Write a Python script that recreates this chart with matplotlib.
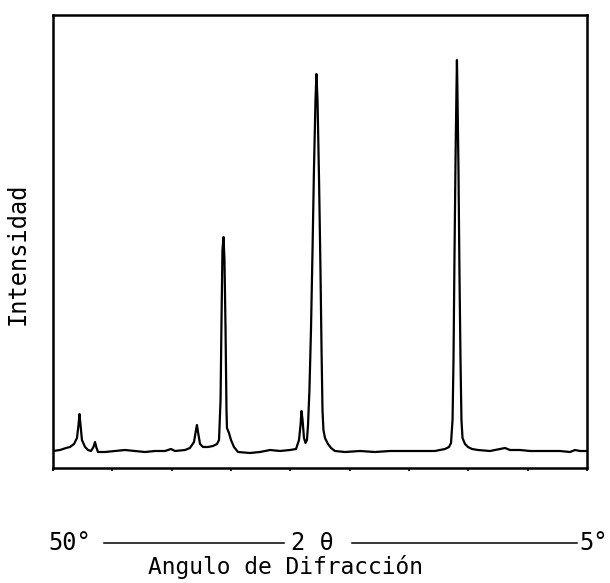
import matplotlib
matplotlib.use("Agg")
import matplotlib.pyplot as plt
from matplotlib.lines import Line2D

# Traced diffractogram (2-theta in degrees, intensity in arbitrary units)
two_theta = [50.00, 49.41, 48.90, 48.57, 48.23, 47.98, 47.85, 47.77, 47.68, 47.56,
             47.30, 47.05, 46.80, 46.59, 46.46, 46.33, 46.21, 45.62, 44.78, 43.93,
             43.09, 42.25, 41.40, 40.56, 40.06, 39.72, 38.88, 38.46, 38.12, 37.95,
             37.87, 37.78, 37.61, 37.36, 36.94, 36.52, 36.18, 36.01, 35.88, 35.80,
             35.72, 35.63, 35.55, 35.46, 35.38, 35.34, 35.17, 35.00, 34.75, 34.41,
             33.40, 32.56, 31.71, 30.87, 30.03, 29.52, 29.27, 29.14, 29.06, 28.97,
             28.85, 28.72, 28.60, 28.51, 28.39, 28.26, 28.13, 28.01, 27.88, 27.80,
             27.71, 27.58, 27.46, 27.37, 27.29, 27.21, 27.08, 26.83, 26.57, 26.24,
             25.39, 24.13, 22.87, 21.60, 20.34, 19.07, 17.81, 16.97, 16.63, 16.46,
             16.33, 16.25, 16.17, 16.08, 16.00, 15.96, 15.92, 15.83, 15.75, 15.66,
             15.58, 15.49, 15.28, 15.03, 14.69, 14.19, 13.17, 12.33, 11.91, 11.49,
             10.65, 9.80, 8.54, 7.28, 6.43, 6.01, 5.59, 5.08]
intensity = [17, 18, 20, 21, 24, 30, 43, 54, 43, 28,
             21, 18, 17, 21, 26, 20, 16, 16, 17, 18,
             17, 16, 17, 17, 19, 17, 18, 20, 26, 38,
             43, 36, 24, 21, 21, 22, 24, 28, 68, 148,
             218, 231, 208, 138, 58, 40, 35, 28, 21, 16,
             15, 16, 18, 17, 18, 19, 28, 43, 57, 48,
             30, 25, 28, 43, 78, 138, 218, 298, 368, 394,
             368, 288, 198, 118, 58, 38, 30, 24, 20, 17,
             16, 17, 16, 17, 17, 17, 17, 19, 21, 25,
             48, 108, 208, 308, 378, 408, 378, 298, 198, 108,
             48, 30, 24, 21, 19, 18, 17, 19, 20, 18,
             18, 17, 17, 17, 16, 18, 17, 17]

x_ticks = [50, 45, 40, 35, 30, 25, 20, 15, 10, 5]

fig = plt.figure(figsize=(6.10, 5.83), dpi=100)
ax = fig.add_axes([53/610, 1 - 468/583, (587-53)/610, (468-15)/583])
ax.plot(two_theta, intensity, color="black", lw=1.6, solid_joinstyle="round")
ax.set_xlim(50, 5)
ax.set_ylim(0, 453)
ax.set_xticks(x_ticks)
ax.set_xticklabels([])
ax.set_yticks([])
ax.tick_params(axis="x", direction="out", length=2.5, width=1.2, color="black")
for s in ax.spines.values():
    s.set_linewidth(1.8)
    s.set_color("black")

mono = "DejaVu Sans Mono"
ty = 1 - 543/583
fig.text(70/610, ty, "50°", ha="center", va="center", fontsize=17, family=mono)
fig.text(312/610, ty, "2 θ", ha="center", va="center", fontsize=17, family=mono)
fig.text(594/610, ty, "5°", ha="center", va="center", fontsize=17, family=mono)
fig.add_artist(Line2D([104/610, 284/610], [ty, ty], color="black", lw=1.1, transform=fig.transFigure))
fig.add_artist(Line2D([352/610, 577/610], [ty, ty], color="black", lw=1.1, transform=fig.transFigure))
fig.text(286/610, 1 - 567/583, "Angulo de Difracción", ha="center", va="center", fontsize=16.5, family=mono)
fig.text(18/610, 1 - 254/583, "Intensidad", ha="center", va="center", rotation=90, fontsize=17, family=mono)

fig.savefig("out.png", dpi=100, facecolor="white")
